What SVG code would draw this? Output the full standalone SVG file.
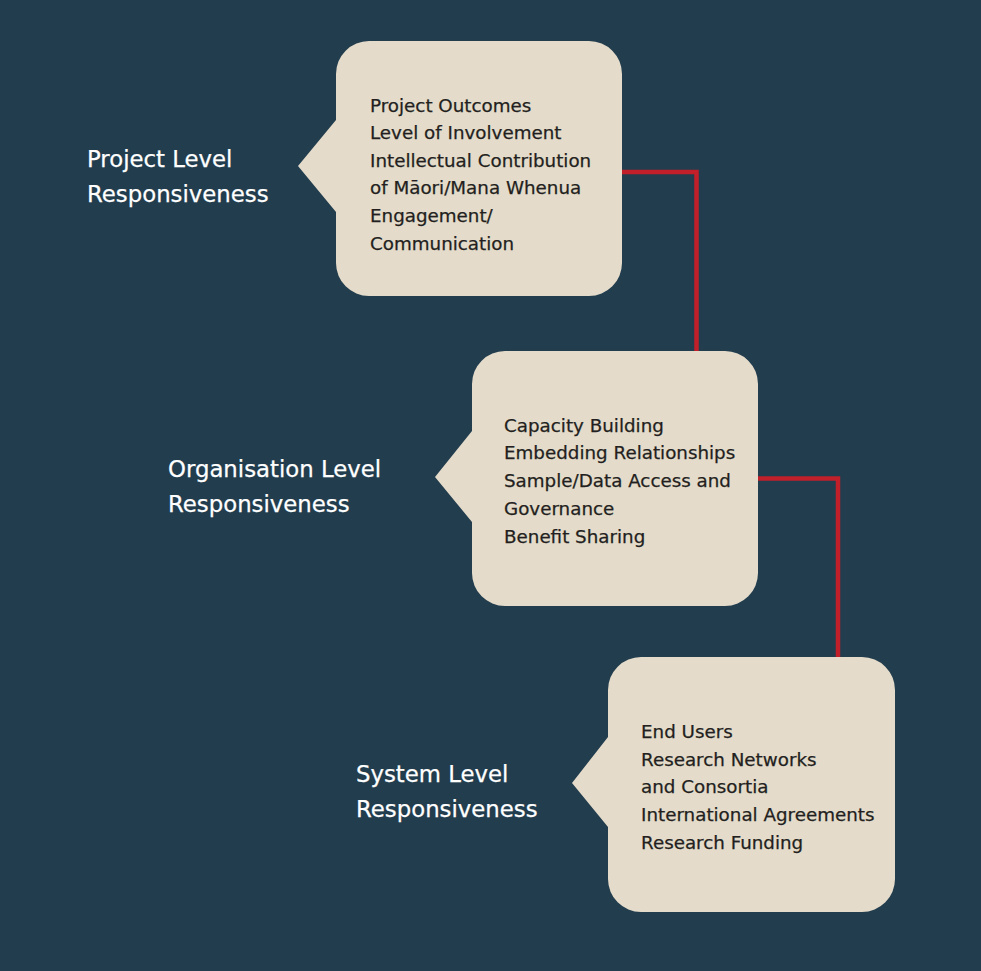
<svg xmlns="http://www.w3.org/2000/svg" width="981" height="971" viewBox="0 0 981 971">
  <style>
    .bubble { fill: #e4dbca; }
    .item { font-family: "DejaVu Sans", "Liberation Sans", sans-serif; font-size: 18.3px; fill: #231f20; stroke: #231f20; stroke-width: 0.25; }
    .label { font-family: "DejaVu Sans", "Liberation Sans", sans-serif; font-size: 22.8px; fill: #ffffff; stroke: #ffffff; stroke-width: 0.25; }
    .conn { fill: none; stroke: #c1202b; stroke-width: 4.5; }
  </style>
  <rect x="0" y="0" width="981" height="971" fill="#223d4e"/>
  <g id="connectors">
    <path class="conn" d="M622 172 H696.5 V351"/>
    <path class="conn" d="M758 478.5 H838 V657"/>
  </g>
  <g id="node-project">
    <path class="bubble" d="M369 41 H589 A33 33 0 0 1 622 74 V263 A33 33 0 0 1 589 296 H369 A33 33 0 0 1 336 263 V212 L298 166 L336 120 V74 A33 33 0 0 1 369 41 Z"/>
    <text class="item" x="370" y="111.5">Project Outcomes</text>
    <text class="item" x="370" y="139.1">Level of Involvement</text>
    <text class="item" x="370" y="166.7">Intellectual Contribution</text>
    <text class="item" x="370" y="194.3">of Māori/Mana Whenua</text>
    <text class="item" x="370" y="221.9">Engagement/</text>
    <text class="item" x="370" y="249.5">Communication</text>
    <text class="label" x="87" y="166.7">Project Level</text>
    <text class="label" x="87" y="201.7">Responsiveness</text>
  </g>
  <g id="node-organisation">
    <path class="bubble" d="M505 351 H725 A33 33 0 0 1 758 384 V573 A33 33 0 0 1 725 606 H505 A33 33 0 0 1 472 573 V522 L435 477 L472 431 V384 A33 33 0 0 1 505 351 Z"/>
    <text class="item" x="504" y="431.7">Capacity Building</text>
    <text class="item" x="504" y="459.4">Embedding Relationships</text>
    <text class="item" x="504" y="487.1">Sample/Data Access and</text>
    <text class="item" x="504" y="514.8">Governance</text>
    <text class="item" x="504" y="542.5">Benefit Sharing</text>
    <text class="label" x="168" y="477.3">Organisation Level</text>
    <text class="label" x="168" y="512.3">Responsiveness</text>
  </g>
  <g id="node-system">
    <path class="bubble" d="M641 657 H862 A33 33 0 0 1 895 690 V879 A33 33 0 0 1 862 912 H641 A33 33 0 0 1 608 879 V827 L572 783 L608 737 V690 A33 33 0 0 1 641 657 Z"/>
    <text class="item" x="641" y="737.7">End Users</text>
    <text class="item" x="641" y="765.5">Research Networks</text>
    <text class="item" x="641" y="793.3">and Consortia</text>
    <text class="item" x="641" y="821.1">International Agreements</text>
    <text class="item" x="641" y="848.9">Research Funding</text>
    <text class="label" x="356" y="781.7">System Level</text>
    <text class="label" x="356" y="816.7">Responsiveness</text>
  </g>
</svg>
